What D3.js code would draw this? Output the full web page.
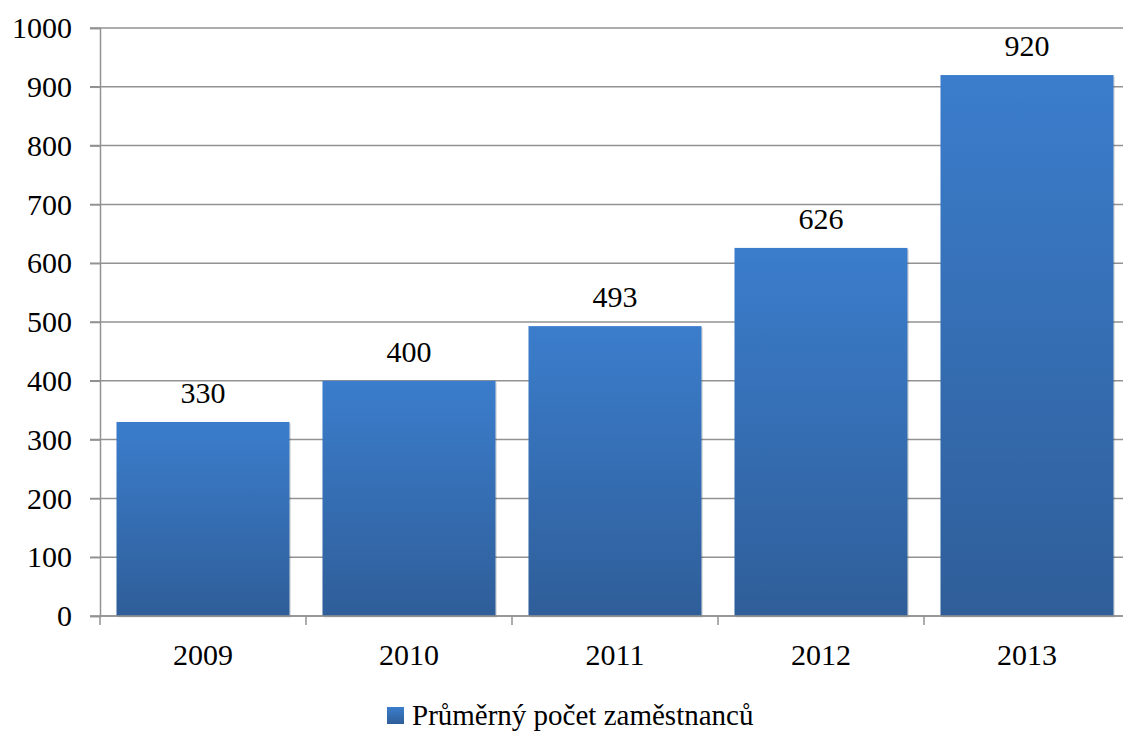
<!DOCTYPE html>
<html>
<head>
<meta charset="utf-8">
<script src="https://cdn.jsdelivr.net/npm/d3@7"></script>
</head>
<body style="margin:0">
<svg id="chart"></svg>
<script>
// Data
const years = ["2009", "2010", "2011", "2012", "2013"];
const employees = [330, 400, 493, 626, 920];
const yTicks = [0, 100, 200, 300, 400, 500, 600, 700, 800, 900, 1000];
const seriesName = "Průměrný počet zaměstnanců";

const width = 1123;
const height = 731;
const margin = { top: 28, right: -7, bottom: 115, left: 100 };
const font30 = "30px 'Times New Roman', 'Liberation Serif', serif";
const font29 = "29px 'Times New Roman', 'Liberation Serif', serif";

const svg = d3.select("#chart")
  .attr("width", width)
  .attr("height", height);

// gradient for bars
const defs = svg.append("defs");
const grad = defs.append("linearGradient")
  .attr("id", "barGrad")
  .attr("x1", 0).attr("y1", 0).attr("x2", 0).attr("y2", 1);
grad.append("stop").attr("offset", "0%").attr("stop-color", "#3b7dcc");
grad.append("stop").attr("offset", "100%").attr("stop-color", "#2f5e99");

const xScale = d3.scaleBand()
  .domain(years)
  .range([margin.left, width - margin.right])
  .paddingInner(0.16)
  .paddingOuter(0.08);

const yScale = d3.scaleLinear()
  .domain([0, 1000])
  .range([height - margin.bottom, margin.top]);

// Gridlines
svg.append("g")
  .selectAll("line")
  .data(yTicks)
  .join("line")
  .attr("x1", margin.left - 10)
  .attr("x2", width)
  .attr("y1", d => yScale(d))
  .attr("y2", d => yScale(d))
  .attr("stroke", "#929292")
  .attr("stroke-width", 1.5);

// Bars, with a faint shadow rect behind each one
svg.selectAll(".shadow")
  .data(employees)
  .join("rect")
  .attr("class", "shadow")
  .attr("x", (d, i) => xScale(years[i]) + 1.5)
  .attr("y", d => yScale(d) + 1.5)
  .attr("width", xScale.bandwidth())
  .attr("height", d => yScale(0) - yScale(d))
  .attr("fill", "#000")
  .attr("opacity", 0.12);

svg.selectAll(".bar")
  .data(employees)
  .join("rect")
  .attr("class", "bar")
  .attr("x", (d, i) => xScale(years[i]))
  .attr("y", d => yScale(d))
  .attr("width", xScale.bandwidth())
  .attr("height", d => yScale(0) - yScale(d))
  .attr("fill", "url(#barGrad)");

// Data labels
svg.selectAll(".label")
  .data(employees)
  .join("text")
  .attr("class", "label")
  .attr("x", (d, i) => xScale(years[i]) + xScale.bandwidth() / 2)
  .attr("y", d => yScale(d) - 19)
  .attr("text-anchor", "middle")
  .style("font", font30)
  .text(d => d);

// Y axis: ticks from d3, labels drawn by hand
const yAxis = svg.append("g")
  .attr("transform", `translate(${margin.left},0)`)
  .call(d3.axisLeft(yScale).tickValues(yTicks).tickFormat("").tickSize(10));
yAxis.select(".domain").attr("stroke", "#929292").attr("stroke-width", 1.5);
yAxis.selectAll(".tick line").attr("stroke", "#929292").attr("stroke-width", 1.5);

svg.append("g")
  .selectAll("text")
  .data(yTicks)
  .join("text")
  .attr("x", margin.left - 28)
  .attr("y", d => yScale(d))
  .attr("dy", "0.34em")
  .attr("text-anchor", "end")
  .style("font", font30)
  .text(d => d);

// X axis (category boundaries as ticks)
const xAxisY = yScale(0);
svg.append("line")
  .attr("x1", margin.left).attr("x2", width)
  .attr("y1", xAxisY).attr("y2", xAxisY)
  .attr("stroke", "#929292").attr("stroke-width", 1.5);

const step = xScale.step();
const boundaries = years.map(d => xScale(d) - xScale.paddingInner() * step / 2);
svg.append("g")
  .selectAll("line")
  .data(boundaries)
  .join("line")
  .attr("x1", d => d).attr("x2", d => d)
  .attr("y1", xAxisY).attr("y2", xAxisY + 9)
  .attr("stroke", "#929292").attr("stroke-width", 1.5);

svg.append("g")
  .selectAll("text")
  .data(years)
  .join("text")
  .attr("x", d => xScale(d) + xScale.bandwidth() / 2)
  .attr("y", xAxisY + 49)
  .attr("text-anchor", "middle")
  .style("font", font30)
  .text(d => d);

// Legend
const legend = svg.append("g").attr("transform", "translate(387,707)");
legend.append("rect")
  .attr("width", 17).attr("height", 17)
  .attr("fill", "url(#barGrad)");
legend.append("text")
  .attr("x", 25).attr("y", 18)
  .style("font", font29)
  .text(seriesName);
</script>
</body>
</html>
